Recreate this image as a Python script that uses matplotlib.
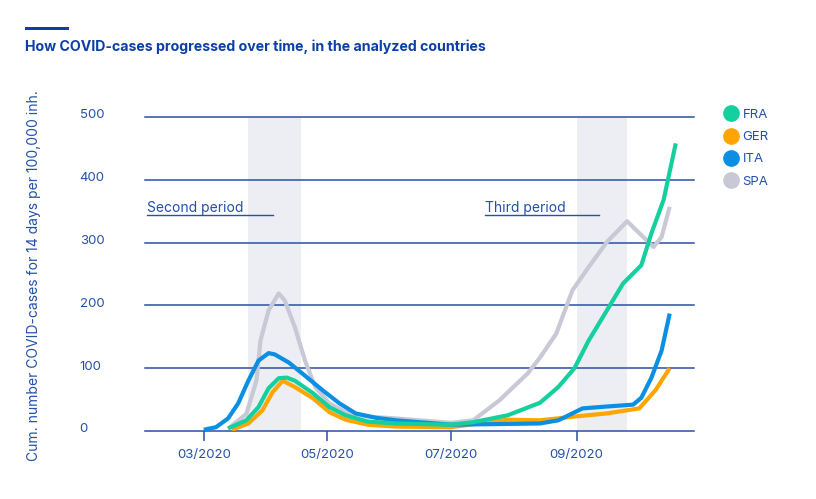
import numpy as np
import pandas as pd
import matplotlib
matplotlib.use('Agg')
import matplotlib.pyplot as plt
import matplotlib.dates as mdates
import matplotlib.transforms as mtransforms
from matplotlib.lines import Line2D
from matplotlib.patches import Rectangle

plt.rcParams['font.family'] = ['Inter', 'DejaVu Sans']

BLUE_TXT = '#2450a8'
TITLE_C = '#0b3ea6'
GRID_C = '#2a50a6'

# values (14-day cases per 100,000)
fra_dates = ['2020-03-13', '2020-03-22', '2020-03-28', '2020-04-02', '2020-04-07', '2020-04-11',
             '2020-04-15', '2020-04-24', '2020-05-02', '2020-05-10', '2020-05-21', '2020-06-04',
             '2020-07-01', '2020-07-12', '2020-07-29', '2020-08-14', '2020-08-23', '2020-08-31',
             '2020-09-07', '2020-09-16', '2020-09-24', '2020-10-03', '2020-10-08', '2020-10-14',
             '2020-10-20']
fra_vals = [4, 17, 38, 68, 84, 85, 80, 60, 38, 25, 15, 12, 10, 14, 25, 45, 70, 100,
            144, 192, 235, 264, 315, 368, 458]

ger_dates = ['2020-03-15', '2020-03-23', '2020-03-30', '2020-04-04', '2020-04-09', '2020-04-15',
             '2020-04-24', '2020-05-02', '2020-05-10', '2020-05-21', '2020-06-04', '2020-07-01',
             '2020-07-29', '2020-08-14', '2020-08-31', '2020-09-16', '2020-10-02', '2020-10-10',
             '2020-10-17']
ger_vals = [2, 12, 33, 62, 80, 70, 52, 30, 18, 10, 7, 6, 18, 17, 23, 28, 36, 65, 100]

ita_dates = ['2020-03-01', '2020-03-07', '2020-03-13', '2020-03-18', '2020-03-23', '2020-03-28',
             '2020-04-02', '2020-04-05', '2020-04-12', '2020-04-20', '2020-04-29', '2020-05-07',
             '2020-05-15', '2020-05-25', '2020-06-04', '2020-07-01', '2020-08-14', '2020-08-23',
             '2020-09-04', '2020-09-16', '2020-09-29', '2020-10-03', '2020-10-08', '2020-10-13',
             '2020-10-17']
ita_vals = [2, 6, 20, 44, 80, 112, 124, 122, 109, 88, 64, 44, 28, 21, 17, 10, 12, 17,
            36, 39, 42, 53, 85, 128, 187]

spa_dates = ['2020-03-13', '2020-03-22', '2020-03-27', '2020-03-29', '2020-04-02', '2020-04-07',
             '2020-04-10', '2020-04-15', '2020-04-20', '2020-04-25', '2020-05-02', '2020-05-10',
             '2020-05-21', '2020-06-04', '2020-07-01', '2020-07-12', '2020-07-25', '2020-08-08',
             '2020-08-14', '2020-08-22', '2020-08-30', '2020-09-07', '2020-09-16', '2020-09-26',
             '2020-10-02', '2020-10-09', '2020-10-13', '2020-10-17']
spa_vals = [4, 27, 80, 144, 192, 219, 208, 165, 112, 70, 44, 30, 23, 20, 13, 17, 49, 92,
            117, 155, 224, 261, 301, 334, 315, 293, 309, 357]

series = [('SPA', spa_dates, spa_vals, '#c8c8d6'),
          ('GER', ger_dates, ger_vals, '#ffa500'),
          ('ITA', ita_dates, ita_vals, '#0a8fe3'),
          ('FRA', fra_dates, fra_vals, '#14cf9e')]
legend_order = ['FRA', 'GER', 'ITA', 'SPA']

periods = [('2020-03-23', '2020-04-18'), ('2020-09-01', '2020-09-26')]
yticks = [0, 100, 200, 300, 400, 500]
xticks = ['2020-03-01', '2020-05-01', '2020-07-01', '2020-09-01']

fig = plt.figure(figsize=(8.16, 4.99), dpi=100)
W, H = 816, 499
ax = fig.add_axes([145 / W, (H - 431) / H, (694 - 145) / W, (431 - 117) / H])

for a, b in periods:
    ax.axvspan(pd.Timestamp(a), pd.Timestamp(b), ymin=0, ymax=1, color='#eceef3', lw=0, zorder=0)

for v in yticks[1:]:
    ax.axhline(v, color=GRID_C, lw=1.1, zorder=1, clip_on=False)

colors = {}
for name, d, v, c in series:
    ax.plot(pd.to_datetime(d), v, color=c, lw=3, solid_joinstyle='round',
            solid_capstyle='butt', zorder=3)
    colors[name] = c

ax.set_xlim(pd.Timestamp('2020-02-01'), pd.Timestamp('2020-10-29'))
ax.set_ylim(0, 500)
for s in ['top', 'right', 'left']:
    ax.spines[s].set_visible(False)
ax.spines['bottom'].set_color(GRID_C)
ax.spines['bottom'].set_linewidth(1.1)

ax.set_xticks(pd.to_datetime(xticks))
ax.xaxis.set_major_formatter(mdates.DateFormatter('%m/%Y'))
ax.tick_params(axis='x', direction='out', length=7, width=1.1, color=GRID_C,
               labelcolor=BLUE_TXT, labelsize=9.5, pad=6)
ax.set_yticks(yticks)
ax.tick_params(axis='y', length=0, labelcolor=BLUE_TXT, labelsize=9.5, pad=47)
shift = mtransforms.ScaledTranslation(0, 3 / 100, fig.dpi_scale_trans)
for lab in ax.get_yticklabels():
    lab.set_ha('left')
    lab.set_transform(lab.get_transform() + shift)

ax.set_ylabel('Cum. number COVID-cases for 14 days per 100,000 inh.', color=BLUE_TXT,
              fontsize=10)
ax.yaxis.set_label_coords((41 - 145) / (694 - 145), (431 - 276) / (431 - 117))

# period annotations
ax.text(pd.Timestamp('2020-02-02'), 349, 'Second period', color=BLUE_TXT, fontsize=10,
        va='baseline', ha='left')
ax.plot([pd.Timestamp('2020-02-02'), pd.Timestamp('2020-04-04')], [344, 344], color=GRID_C, lw=1)
ax.text(pd.Timestamp('2020-07-18'), 349, 'Third period', color=BLUE_TXT, fontsize=10,
        va='baseline', ha='left')
ax.plot([pd.Timestamp('2020-07-18'), pd.Timestamp('2020-09-12')], [344, 344], color=GRID_C, lw=1)

handles = [Line2D([], [], marker='o', ls='none', markersize=11, markerfacecolor=colors[n],
                  markeredgecolor=colors[n]) for n in legend_order]
leg = fig.legend(handles, legend_order, loc='upper left', bbox_to_anchor=(711 / W, 1 - 97 / H),
                 frameon=False, handletextpad=0.3, labelspacing=0.75, fontsize=9.5,
                 handlelength=1.2)
for t in leg.get_texts():
    t.set_color(BLUE_TXT)

fig.add_artist(Rectangle((25 / W, 1 - 30 / H), 44 / W, 3 / H, transform=fig.transFigure,
                         color=TITLE_C, lw=0))
fig.text(25 / W, 1 - 47 / H, 'How COVID-cases progressed over time, in the analyzed countries',
         color=TITLE_C, fontsize=10.2, fontweight='bold', va='center', ha='left')

fig.savefig('out.png', dpi=100)
